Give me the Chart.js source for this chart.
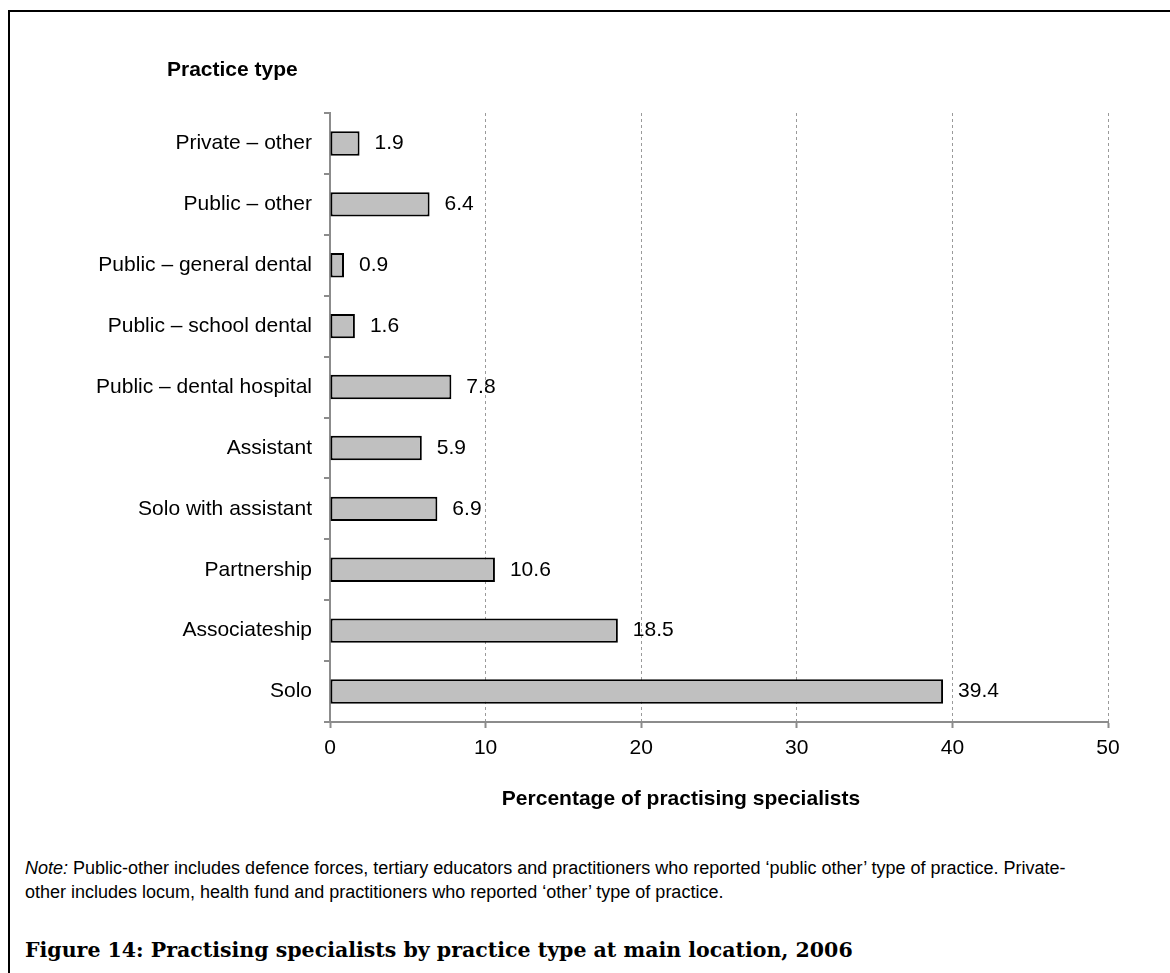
<!DOCTYPE html>
<html>
<head>
<meta charset="utf-8">
<script src="https://cdn.jsdelivr.net/npm/chart.js@4"></script>
<style>
    body { margin: 0; background: #fff; width: 1170px; height: 973px; position: relative; overflow: hidden; }
    #frame { position: absolute; left: 8px; top: 10px; right: 0; bottom: 0; border-left: 2px solid #000; border-top: 2px solid #000; }
    #chart-box { position: absolute; left: 0; top: 0; width: 1170px; height: 820px; }
    #note { position: absolute; left: 25px; top: 856px; width: 1130px; font: 18px "Liberation Sans", Arial, sans-serif; line-height: 24px; color: #000; white-space: nowrap; }
    #caption { position: absolute; left: 25px; top: 938px; font: bold 20.5px "DejaVu Serif", serif; color: #000; white-space: nowrap; }
</style>
</head>
<body>
<div id="frame"></div>
<div id="chart-box"><canvas id="practice-chart"></canvas></div>
<div id="note"><i>Note:</i> Public-other includes defence forces, tertiary educators and practitioners who reported ‘public other’ type of practice. Private-<br>other includes locum, health fund and practitioners who reported ‘other’ type of practice.</div>
<div id="caption">Figure 14: Practising specialists by practice type at main location, 2006</div>
<script>
// categories, top to bottom
const practiceTypes = [
    'Private – other',
    'Public – other',
    'Public – general dental',
    'Public – school dental',
    'Public – dental hospital',
    'Assistant',
    'Solo with assistant',
    'Partnership',
    'Associateship',
    'Solo'
];
const percentages = [1.9, 6.4, 0.9, 1.6, 7.8, 5.9, 6.9, 10.6, 18.5, 39.4];
const xTicks = [0, 10, 20, 30, 40, 50];

const yTitle = 'Practice type';
const xTitle = 'Percentage of practising specialists';

const axisGrey = '#8c8c8c';
const font = "'Liberation Sans', Arial, sans-serif";

// value labels to the right of each bar + the two axis titles
const labelPlugin = {
    id: 'labelPlugin',
    afterDatasetsDraw(chart) {
        const ctx = chart.ctx;
        const meta = chart.getDatasetMeta(0);
        ctx.save();
        ctx.fillStyle = '#000';
        ctx.font = '21px ' + font;
        ctx.textBaseline = 'middle';
        ctx.textAlign = 'left';
        meta.data.forEach((bar, i) => {
            ctx.fillText(percentages[i].toFixed(1), bar.x + 15, bar.y);
        });

        ctx.font = 'bold 21px ' + font;
        ctx.textAlign = 'left';
        ctx.fillText(yTitle, 167, 70);
        ctx.textAlign = 'center';
        ctx.fillText(xTitle, 681, 799);
        ctx.restore();
    }
};

const chart = new Chart(document.getElementById('practice-chart'), {
    type: 'bar',
    data: {
        labels: practiceTypes,
        datasets: [{
            data: percentages,
            backgroundColor: '#c0c0c0',
            borderColor: '#000',
            borderWidth: 2,
            borderSkipped: false,
            barPercentage: 0.4,
            categoryPercentage: 1
        }]
    },
    options: {
        indexAxis: 'y',
        responsive: true,
        maintainAspectRatio: false,
        animation: false,
        layout: {
            padding: { left: 0, right: 62, top: 113, bottom: 0 }
        },
        plugins: {
            legend: { display: false },
            title: { display: false },
            tooltip: { enabled: false }
        },
        scales: {
            x: {
                min: 0,
                max: 50,
                afterBuildTicks: (scale) => {
                    scale.ticks = xTicks.map(v => ({ value: v }));
                },
                afterFit: (scale) => { scale.height = 98; },
                grid: {
                    color: '#9a9a9a',
                    lineWidth: 1,
                    borderDash: [3, 3],
                    drawTicks: true,
                    tickLength: 6,
                    tickColor: axisGrey,
                    tickWidth: 2,
                    tickBorderDash: []
                },
                border: { color: axisGrey, width: 2, dash: [3, 3] },
                ticks: {
                    color: '#000',
                    padding: 8,
                    font: { family: font, size: 21 }
                }
            },
            y: {
                afterFit: (scale) => { scale.width = 330; },
                grid: {
                    offset: true,
                    drawOnChartArea: false,
                    drawTicks: true,
                    tickLength: 6,
                    color: axisGrey,
                    lineWidth: 2
                },
                border: { color: axisGrey, width: 2 },
                ticks: {
                    color: '#000',
                    padding: 12,
                    font: { family: font, size: 21 }
                }
            }
        }
    },
    plugins: [labelPlugin]
});
</script>
</body>
</html>
